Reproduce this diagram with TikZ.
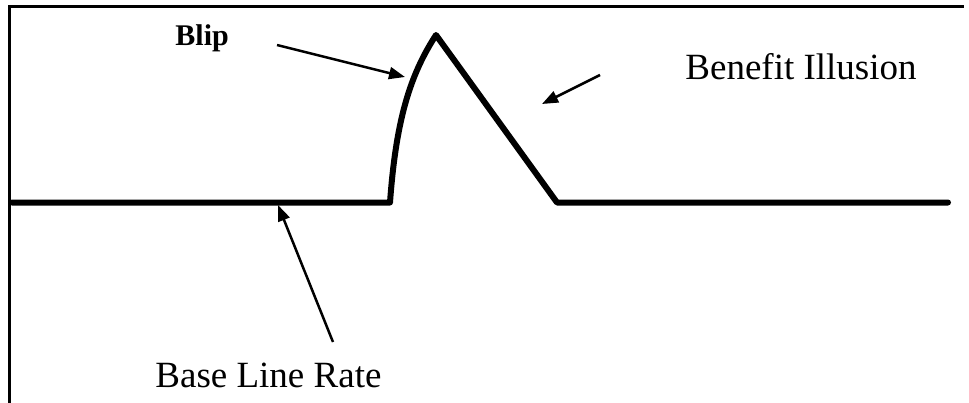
\documentclass[tikz,border=0pt]{standalone}
\usepackage{fontspec}
\setmainfont{Liberation Serif}
\usetikzlibrary{arrows.meta, positioning}

\begin{document}
\begin{tikzpicture}[
    x=0.5pt, y=-0.5pt,
    >={Triangle[length=8pt, width=6pt]},
    frame/.style={line width=1.5pt, line cap=rect},
    rate/.style={line width=3pt, line join=round, line cap=round},
    pointer/.style={->, line width=1.25pt},
    label/.style={inner sep=0pt, anchor=base west, font=\fontsize{18.5}{22}\selectfont},
    blip/.style={inner sep=0pt, anchor=base west, font=\fontsize{15}{18}\selectfont\bfseries}
]
\useasboundingbox (0,0) rectangle (969,402);

% frame (left and top edges only)
\draw[frame] (9.5,402) -- (9.5,6) -- (962,6);

% the rate curve
\coordinate (start) at (12,202.5);
\coordinate (rise) at (390,202.5);
\coordinate (peak) at (436,35);
\coordinate (fall) at (557,202.5);
\coordinate (finish) at (948,202.5);
\draw[rate] (start) -- (rise) .. controls (396,120) and (410,75) .. (peak) -- (fall) -- (finish);

% labels
\node[blip] (bliplabel) at (175,45) {Blip};
\node[label] (benefit) at (685,79) {Benefit Illusion};
\node[label] (baseline) at (155,387) {Base Line Rate};

% pointers
\coordinate (bliptail) at (277,45);
\coordinate (bliptip) at (405,77);
\coordinate (benefittail) at (600,75);
\coordinate (benefittip) at (542,104);
\coordinate (basetail) at (333,342);
\coordinate (basetip) at (278,205);
\draw[pointer] (bliptail) -- (bliptip);
\draw[pointer] (benefittail) -- (benefittip);
\draw[pointer] (basetail) -- (basetip);
\end{tikzpicture}
\end{document}
